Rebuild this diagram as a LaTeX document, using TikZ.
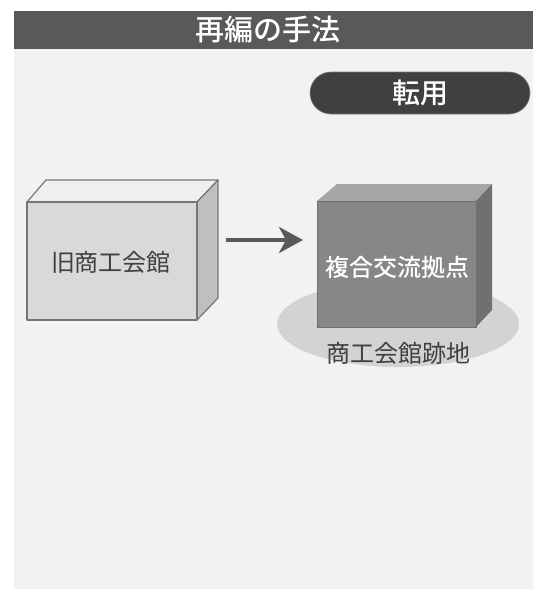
\documentclass[tikz,border=0pt]{standalone}
\usepackage{fontspec}
\newfontfamily\cjk{Noto Sans CJK JP}
\newfontfamily\cjkm{Noto Sans CJK JP Medium}
\usetikzlibrary{arrows.meta}
\definecolor{barc}{HTML}{595959}
\definecolor{bgc}{HTML}{F2F2F2}
\definecolor{pillc}{HTML}{404040}
\definecolor{txtc}{HTML}{404040}
\definecolor{edgec}{HTML}{767676}
\definecolor{oldfront}{HTML}{D9D9D9}
\definecolor{oldtop}{HTML}{EFEFEF}
\definecolor{oldside}{HTML}{BFBFBF}
\definecolor{newfront}{HTML}{878787}
\definecolor{newtop}{HTML}{A6A6A6}
\definecolor{newside}{HTML}{707070}
\definecolor{groundc}{HTML}{D3D3D3}
\tikzset{
  facedraw/.style={draw=edgec, line width=1.2pt, line join=round},
  lbl/.style={font=\cjk\fontsize{24}{27}\selectfont, text=txtc, inner sep=0pt},
}
\begin{document}
\begin{tikzpicture}[x=1pt,y=-1pt]
\useasboundingbox (0,0) rectangle (539,590);
\fill[white] (0,0) rectangle (539,590);
% background and title
\fill[bgc] (14,49) rectangle (533,589);
\fill[barc] (14,11) rectangle (533,49);
\node[font=\cjkm\fontsize{29}{32}\selectfont, text=white, inner sep=0pt] (title) at (268,30) {再編の手法};
% pill
\node[fill=pillc, draw=edgec, line width=0.6pt, rounded corners=21pt, minimum width=220pt, minimum height=42pt, inner sep=0pt,
      font=\cjkm\fontsize{28}{31}\selectfont, text=white] (pill) at (420,93) {転用};
% old box
\filldraw[facedraw, fill=oldtop] (27,202) -- (46,180) -- (218,180) -- (197,202) -- cycle;
\filldraw[facedraw, fill=oldside] (197,202) -- (218,180) -- (218,298) -- (197,320) -- cycle;
\filldraw[facedraw, fill=oldfront] (27,202) rectangle (197,320);
\node[lbl] (old) at (111,262) {旧商工会館};
\coordinate (oldright) at (226,240);
% ground ellipse
\fill[groundc] (398,324) ellipse [x radius=121, y radius=43];
% new box
\fill[newtop] (317,201) -- (337,184) -- (492,184) -- (476,201) -- cycle;
\fill[newside] (476,201) -- (492,184) -- (492,310) -- (476,327) -- cycle;
\fill[newfront] (317,201) rectangle (476,327);
\draw[draw=newside, line width=0.6pt] (317,201) rectangle (476,327);
\node[font=\cjkm\fontsize{24}{27}\selectfont, text=white, inner sep=0pt] (new) at (397,267) {複合交流拠点};
\node[lbl] (site) at (398,353) {商工会館跡地};
\coordinate (newleft) at (303,240);
% arrow
\draw[barc, line width=3.5pt, -{Stealth[length=24pt, width=26pt, inset=7pt]}] (oldright) -- (newleft);
\end{tikzpicture}
\end{document}
